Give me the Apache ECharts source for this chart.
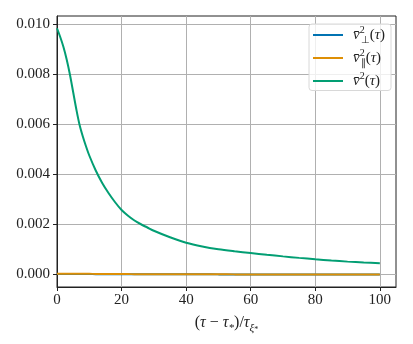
<!DOCTYPE html>
<html><head><meta charset="utf-8">
<script src="https://cdn.jsdelivr.net/npm/echarts@6/dist/echarts.min.js"></script>
<style>html,body{margin:0;padding:0;background:#fff}#c{width:413px;height:344px}</style>
</head><body><div id="c"></div>
<script>
var xs = [0,1,2,3,4,5,6,7,8,9,10,12,14,16,18,20,22,24,26,28,30,35,40,45,50,55,60,65,70,75,80,85,90,95,100];
var vTotal = [0.00985,0.0095,0.0091,0.0086,0.0080,0.0073,0.0066,0.00598,0.00552,0.00512,0.00476,0.00416,0.00366,0.00325,0.00289,0.00258,0.00235,0.00216,0.00201,0.00188,0.00175,0.00149,0.00127,0.00112,0.00101,0.00093,0.00086,0.00079,0.000725,0.000665,0.00061,0.00056,0.000515,0.00048,0.00045];
var vPerp = [0.00002,0.00002,0.00002,0.00002,0.00002,0.00002,0.00002,0.00002,0.00002,0.00002,0.00002,0.00001,0.00001,0.00001,0.00001,0.00001,0.00001,0.00001,0.00001,0.00001,0.00001,0.00001,0.00001,0.00001,0.000005,0.000005,0.000005,0.000005,0.000005,0.000005,0.000005,0.000005,0.000005,0.000005,0.000005];
var vPar = [0.00003,0.00003,0.00003,0.00003,0.00003,0.00003,0.00003,0.00003,0.00003,0.00003,0.00003,0.00002,0.00002,0.00002,0.00002,0.00002,0.00002,0.00001,0.00001,0.00001,0.00001,0.00001,0.00001,0.00001,0.00001,0.000005,0.000005,0.000005,0.000005,0.000005,0.000005,0.000005,0.000005,0.000005,0.000005];
var xTicks = [0,20,40,60,80,100];
var yTicks = [0,0.002,0.004,0.006,0.008,0.010];
var names = ['perp','par','tot'];
var labels = {
  perp: '{v|v\u0304}{sup|2}{sub|\u22a5}{a|(}{i|\u03c4}{a|)}',
  par: '{v|v\u0304}{sup|2}{sub|\u2225}{a|(}{i|\u03c4}{a|)}',
  tot: '{v|v\u0304}{sup2|2}{a|(}{i|\u03c4}{a|)}'
};
var colors = ['#0173b2','#de8f05','#029e73'];
function pairs(v){ return xs.map(function(x,i){ return [x, v[i]]; }); }
var font = 'Liberation Serif';
var chart = echarts.init(document.getElementById('c'), null, {renderer:'canvas'});
chart.setOption({
  animation: false,
  backgroundColor: '#fff',
  grid: {left:57, right:17, top:16, bottom:57, show:true, borderColor:'#222', borderWidth:1, backgroundColor:'transparent'},
  legend: {
    orient: 'vertical', left: 309, top: 24, icon: 'rect', itemWidth: 30, itemHeight: 2, itemGap: 3,
    padding: [1,6,2,4], borderColor: '#d8d8d8', borderWidth: 1, borderRadius: 3, backgroundColor: 'rgba(255,255,255,0.8)',
    data: names,
    formatter: function(n){ return labels[n]; },
    textStyle: {
      fontFamily: font, fontSize: 15, color: '#222',
      rich: {
        v: {fontFamily: font, fontSize: 15, fontStyle:'italic', color:'#222', lineHeight: 20, padding:[0,0,0,5]},
        a: {fontFamily: font, fontSize: 15, color:'#222', lineHeight: 20},
        i: {fontFamily: font, fontSize: 15, fontStyle:'italic', color:'#222', lineHeight: 20},
        sup: {fontFamily: font, fontSize: 10, color:'#222', verticalAlign:'top', lineHeight: 20, width: 1},
        sup2: {fontFamily: font, fontSize: 10, color:'#222', verticalAlign:'top', lineHeight: 20},
        sub: {fontFamily: font, fontSize: 10, color:'#222', verticalAlign:'bottom', lineHeight: 20}
      }
    }
  },
  xAxis: {
    type: 'value', min: 0, max: 105,
    name: '{a|(}{i|\u03c4}{a| \u2212 }{i|\u03c4}{s|*}{a|)/}{i|\u03c4}{s|\u03be}{ss|*}',
    nameLocation: 'middle', nameGap: 25,
    nameTextStyle: {
      fontFamily: font, fontSize: 15, color:'#222',
      rich: {
        a: {fontFamily: font, fontSize: 16, color:'#222', lineHeight: 22},
        i: {fontFamily: font, fontSize: 16, fontStyle:'italic', color:'#222', lineHeight: 22},
        s: {fontFamily: font, fontSize: 11, fontStyle:'italic', color:'#222', verticalAlign:'bottom', lineHeight: 22},
        ss: {fontFamily: font, fontSize: 8, color:'#222', verticalAlign:'bottom', lineHeight: 18}
      }
    },
    axisLine: {show: true, onZero: false, lineStyle: {color:'#222', width:1}},
    axisTick: {show: true, length: 4, inside: false, customValues: xTicks, lineStyle:{color:'#222'}},
    axisLabel: {customValues: xTicks, fontFamily: font, fontSize: 15, color:'#222', margin: 6},
    splitLine: {show: true, lineStyle: {color:'#b0b0b0', width:1}}
  },
  yAxis: {
    type: 'value', min: -0.0005, max: 0.01034,
    axisLine: {show: true, onZero: false, lineStyle: {color:'#222', width:1}},
    axisTick: {show: true, length: 4, inside: false, customValues: yTicks, lineStyle:{color:'#222'}},
    axisLabel: {customValues: yTicks, fontFamily: font, fontSize: 15, color:'#222', margin: 7,
      formatter: function(v){ return v.toFixed(3); }},
    splitLine: {show: true, lineStyle: {color:'#b0b0b0', width:1}}
  },
  series: [
    {name:'perp', type:'line', data: pairs(vPerp), symbol:'none', smooth:0.3, lineStyle:{width:2, color:colors[0]}, itemStyle:{color:colors[0]}},
    {name:'par', type:'line', data: pairs(vPar), symbol:'none', smooth:0.3, lineStyle:{width:2, color:colors[1]}, itemStyle:{color:colors[1]}},
    {name:'tot', type:'line', data: pairs(vTotal), symbol:'none', smooth:0.3, lineStyle:{width:2, color:colors[2]}, itemStyle:{color:colors[2]}}
  ]
});
</script></body></html>
